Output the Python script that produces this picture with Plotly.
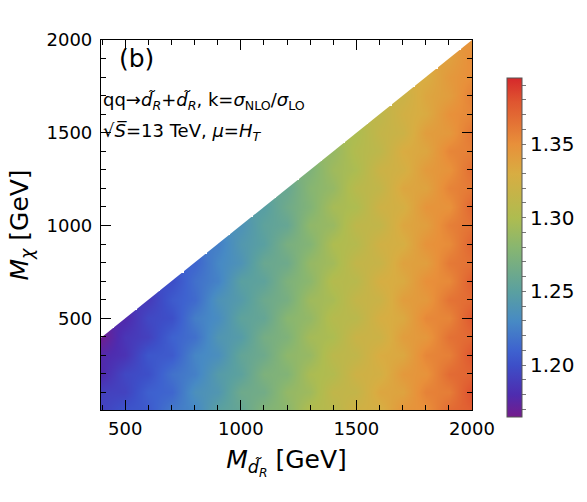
import plotly.graph_objects as go

# ---------------- data ----------------
X_MASS = [400, 500, 600, 700, 800, 900, 1000, 1100, 1200, 1300, 1400,
          1500, 1600, 1700, 1800, 1900, 2000]            # M_dR [GeV]
Y_MASS = list(range(0, 2001, 100))                      # M_chi [GeV]

# k-factor per column of X_MASS, listed from M_chi = 0 upward to M_chi = M_dR
K_400 = [1.193, 1.192, 1.179, 1.178, 1.167]
K_500 = [1.203, 1.193, 1.196, 1.184, 1.186, 1.178]
K_600 = [1.205, 1.209, 1.200, 1.204, 1.192, 1.196, 1.188]
K_700 = [1.222, 1.212, 1.218, 1.206, 1.210, 1.200, 1.206, 1.199]
K_800 = [1.228, 1.235, 1.225, 1.228, 1.217, 1.224, 1.214, 1.217, 1.211]
K_900 = [1.251, 1.241, 1.245, 1.234, 1.240, 1.232, 1.237, 1.226, 1.229, 1.224]
K_1000 = [1.257, 1.263, 1.252, 1.256, 1.246, 1.253, 1.245, 1.250, 1.238, 1.242,
          1.237]
K_1100 = [1.276, 1.266, 1.273, 1.263, 1.268, 1.257, 1.262, 1.253, 1.260, 1.250,
          1.253, 1.248]
K_1200 = [1.281, 1.286, 1.276, 1.283, 1.274, 1.280, 1.269, 1.273, 1.263, 1.270,
          1.258, 1.264, 1.259]
K_1300 = [1.303, 1.292, 1.298, 1.288, 1.295, 1.286, 1.292, 1.282, 1.287, 1.277,
          1.284, 1.276, 1.279, 1.274]
K_1400 = [1.307, 1.313, 1.303, 1.309, 1.299, 1.305, 1.297, 1.304, 1.294, 1.300,
          1.289, 1.296, 1.287, 1.292, 1.287]
K_1500 = [1.324, 1.315, 1.322, 1.313, 1.319, 1.308, 1.315, 1.307, 1.314, 1.305,
          1.311, 1.300, 1.307, 1.299, 1.303, 1.299]
K_1600 = [1.327, 1.335, 1.326, 1.331, 1.321, 1.328, 1.320, 1.328, 1.318, 1.324,
          1.314, 1.322, 1.314, 1.320, 1.311, 1.315, 1.311]
K_1700 = [1.347, 1.337, 1.344, 1.334, 1.341, 1.333, 1.341, 1.332, 1.338, 1.328,
          1.335, 1.327, 1.335, 1.326, 1.331, 1.321, 1.325, 1.320]
K_1800 = [1.349, 1.357, 1.348, 1.355, 1.345, 1.354, 1.344, 1.350, 1.340, 1.348,
          1.340, 1.347, 1.337, 1.343, 1.335, 1.341, 1.332, 1.335, 1.330]
K_1900 = [1.369, 1.359, 1.368, 1.358, 1.365, 1.355, 1.364, 1.353, 1.361, 1.352,
          1.358, 1.348, 1.356, 1.348, 1.355, 1.344, 1.349, 1.341, 1.344, 1.339]
K_2000 = [1.374, 1.382, 1.371, 1.379, 1.369, 1.378, 1.368, 1.375, 1.365, 1.372,
          1.364, 1.371, 1.361, 1.367, 1.358, 1.363, 1.354, 1.358, 1.351, 1.352,
          1.347]
K_COLUMNS = [K_400, K_500, K_600, K_700, K_800, K_900, K_1000, K_1100, K_1200,
             K_1300, K_1400, K_1500, K_1600, K_1700, K_1800, K_1900, K_2000]

X_RANGE = [395, 2000]
Y_RANGE = [5, 2000]
Z_RANGE = [1.165, 1.395]
X_TICKS = [500, 1000, 1500, 2000]
Y_TICKS = [500, 1000, 1500, 2000]
CB_MAJOR = [1.20, 1.25, 1.30, 1.35]
CB_ALL = [1.17, 1.18, 1.19, 1.20, 1.21, 1.22, 1.23, 1.24, 1.25, 1.26, 1.27,
          1.28, 1.29, 1.30, 1.31, 1.32, 1.33, 1.34, 1.35, 1.36, 1.37, 1.38,
          1.39]

# ---------------- build figure ----------------
z = [[None] * len(X_MASS) for _ in Y_MASS]
for i, col in enumerate(K_COLUMNS):
    for j, v in enumerate(col):
        z[j][i] = v

def norm(v):
    return (v - Z_RANGE[0]) / (Z_RANGE[1] - Z_RANGE[0])

colorscale = [
    [0.0, '#741c8c'],
    [norm(1.18), '#4e2caf'],
    [norm(1.20), '#3d4fc8'],
    [norm(1.21), '#3e62cf'],
    [norm(1.23), '#478ac4'],
    [norm(1.25), '#5aa0a0'],
    [norm(1.28), '#88b670'],
    [norm(1.30), '#aebc50'],
    [norm(1.33), '#d8ad42'],
    [norm(1.35), '#e8903a'],
    [norm(1.379), '#df5530'],
    [1.0, '#d6282b'],
]

cb_text = [('%.2f' % v) if any(abs(v - m) < 1e-9 for m in CB_MAJOR) else ''
           for v in CB_ALL]

FONT = 'DejaVu Sans'

fig = go.Figure()
fig.add_trace(go.Heatmap(
    x=X_MASS, y=Y_MASS, z=z, zsmooth='best',
    zmin=Z_RANGE[0], zmax=Z_RANGE[1], colorscale=colorscale,
    colorbar=dict(
        x=1.094, xanchor='left', xpad=0, thickness=15,
        len=0.916, lenmode='fraction', y=0.44, yanchor='middle', ypad=0,
        outlinewidth=1, outlinecolor='#555',
        tickmode='array', tickvals=CB_ALL, ticktext=cb_text,
        ticks='outside', ticklen=4, tickcolor='#777', tickwidth=1,
        tickfont=dict(family=FONT, size=20, color='black'),
    ),
    hoverinfo='skip',
))

# white mask for the kinematically excluded region (M_chi > M_dR)
fig.add_trace(go.Scatter(
    x=[X_RANGE[0] - 100, X_RANGE[1] + 100, X_RANGE[0] - 100],
    y=[X_RANGE[0] - 100, X_RANGE[1] + 100, Y_RANGE[1] + 100],
    fill='toself', fillcolor='white', mode='none', hoverinfo='skip',
    showlegend=False,
))

axis_common = dict(
    showgrid=False, zeroline=False, showline=True, linecolor='black',
    linewidth=1.2, mirror='ticks', ticks='inside', ticklen=10, tickwidth=1.2,
    tickcolor='black', tickfont=dict(family=FONT, size=18, color='black'),
    minor=dict(ticks='inside', ticklen=5, tickwidth=1, tickcolor='black',
               dtick=100, tick0=0, showgrid=False),
)

fig.update_xaxes(range=X_RANGE, tickmode='array', tickvals=X_TICKS,
                 ticklabelstandoff=2,
                 title=dict(text='<i>M</i><sub><i>d\u0303</i><sub><i>R</i></sub></sub> [GeV]',
                            font=dict(family=FONT, size=25, color='black'),
                            standoff=12),
                 **axis_common)
fig.update_yaxes(range=Y_RANGE, tickmode='array', tickvals=Y_TICKS,
                 ticklabelstandoff=4,
                 title=dict(text='<i>M</i><sub><i>\u03c7</i></sub> [GeV]',
                            font=dict(family=FONT, size=25, color='black'),
                            standoff=10),
                 **axis_common)

ann_font = dict(family=FONT, color='black')
fig.add_annotation(xref='paper', yref='paper', x=0.043, y=0.949,
                   xanchor='left', yanchor='middle', showarrow=False,
                   text='(b)', font=dict(size=25, **ann_font))
fig.add_annotation(xref='paper', yref='paper', x=0.0, y=0.835,
                   xanchor='left', yanchor='middle', showarrow=False,
                   text='qq\u2192<i>d\u0303</i><sub><i>R</i></sub>+<i>d\u0303</i><sub><i>R</i></sub>, '
                        'k=<i>\u03c3</i><sub>NLO</sub>/<i>\u03c3</i><sub>LO</sub>',
                   font=dict(size=18, **ann_font))
fig.add_annotation(xref='paper', yref='paper', x=0.0, y=0.751,
                   xanchor='left', yanchor='middle', showarrow=False,
                   text='\u221a<i>S\u0305</i>=13 TeV, '
                        '<i>\u03bc</i>=<i>H</i><sub><i>T</i></sub>',
                   font=dict(size=18, **ann_font))

fig.update_layout(
    width=587, height=502, autosize=False,
    margin=dict(l=101, r=113, t=40, b=92, pad=0),
    paper_bgcolor='white', plot_bgcolor='white',
    showlegend=False,
)

fig.write_html('out.html')
